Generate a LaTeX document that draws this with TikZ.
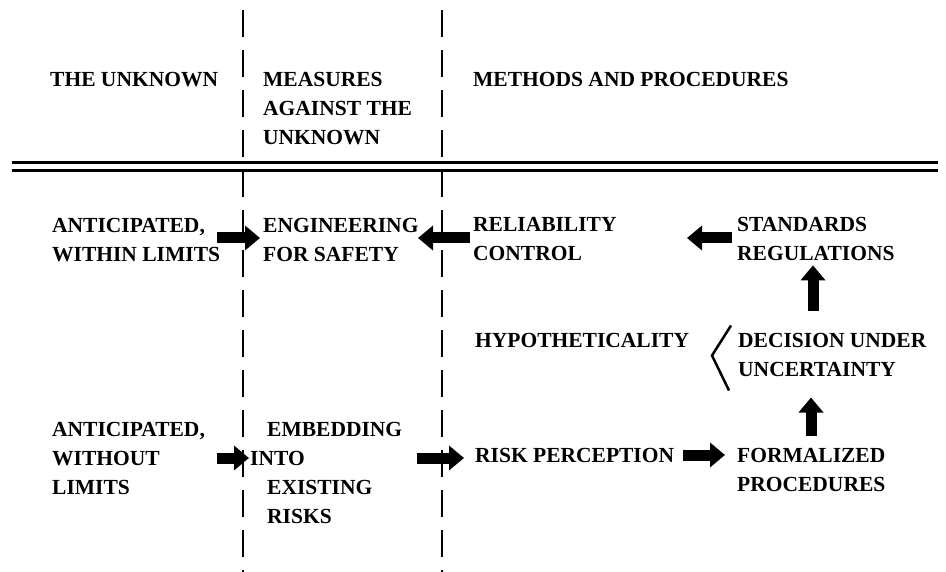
\documentclass[tikz,border=0pt]{standalone}
\usepackage{fontspec}
\setmainfont{Liberation Serif}
\usetikzlibrary{arrows.meta,calc}
\tikzset{
  lbl/.style={anchor=north west, inner sep=0pt, align=left, font=\fontsize{21.5}{29}\selectfont\bfseries},
  divider/.style={line width=2.5pt, dash pattern=on 27pt off 13pt},
  rule/.style={line width=3pt},
  bigarr/.style={line width=11pt, -{Triangle[length=15pt,width=24pt]}},
  bracket/.style={line width=2.5pt}
}
\begin{document}
\begin{tikzpicture}[x=1pt,y=-1pt]
\useasboundingbox (0,0) rectangle (946,572);
% dividers
\coordinate (d1t) at (243,10);
\coordinate (d1b) at (243,572);
\coordinate (d2t) at (442,10);
\coordinate (d2b) at (442,572);
\draw[divider] (d1t) -- (d1b);
\draw[divider] (d2t) -- (d2b);
% double rule
\coordinate (h1l) at (12,163);
\coordinate (h1r) at (938,163);
\coordinate (h2l) at (12,171);
\coordinate (h2r) at (938,171);
\draw[rule] (h1l) -- (h1r);
\draw[rule] (h2l) -- (h2r);
% headers
\node[lbl] (hunk) at (50,72.5) {THE UNKNOWN};
\node[lbl] (hmea) at (263,72.5) {MEASURES\\AGAINST THE\\UNKNOWN};
\node[lbl] (hmet) at (473,72.5) {METHODS AND PROCEDURES};
% row 1
\node[lbl] (ant1) at (52,218.5) {ANTICIPATED,\\WITHIN LIMITS};
\node[lbl] (eng) at (263,218.5) {ENGINEERING\\FOR SAFETY};
\node[lbl] (rel) at (473,217) {RELIABILITY\\CONTROL};
\node[lbl] (std) at (737,217.5) {STANDARDS\\REGULATIONS};
% middle
\node[lbl] (hyp) at (475,333.5) {HYPOTHETICALITY};
\node[lbl] (dec) at (738,333.5) {DECISION UNDER\\UNCERTAINTY};
% row 2
\node[lbl] (ant2) at (52,422.5) {ANTICIPATED,\\WITHOUT\\LIMITS};
\node[lbl] (emb) at (267,422.5) {EMBEDDING\\\hspace*{-17pt}INTO\\EXISTING\\RISKS};
\node[lbl] (risk) at (475,448.5) {RISK PERCEPTION};
\node[lbl] (form) at (737,448.5) {FORMALIZED\\PROCEDURES};
% row reference coordinates
\coordinate (r1) at (0,238);
\coordinate (r2) at (0,458);
\coordinate (r3) at (0,455);
% arrows
\draw[bigarr] ($(eng.west |- r1)+(-46,0)$) -- ($(eng.west |- r1)+(-3,0)$);
\draw[bigarr] ($(rel.west |- r1)+(-3,0)$) -- ($(rel.west |- r1)+(-55,0)$);
\draw[bigarr] ($(std.west |- r1)+(-5,0)$) -- ($(std.west |- r1)+(-50,0)$);
\draw[bigarr] ($(std.south west)+(76,50)$) -- ($(std.south west)+(76,4)$);
\draw[bigarr] ($(form.north west)+(74,-13)$) -- ($(form.north west)+(74,-51)$);
\draw[bigarr] ($(emb.west |- r2)+(-50,0)$) -- ($(emb.west |- r2)+(-18,0)$);
\draw[bigarr] ($(risk.west |- r2)+(-58,0)$) -- ($(risk.west |- r2)+(-11,0)$);
\draw[bigarr] ($(form.west |- r3)+(-54,0)$) -- ($(form.west |- r3)+(-12,0)$);
% bracket
\draw[bracket] ($(dec.north west)+(-7,-8)$) -- ($(dec.north west)+(-26,22)$) -- ($(dec.north west)+(-9,57)$);
\end{tikzpicture}
\end{document}
